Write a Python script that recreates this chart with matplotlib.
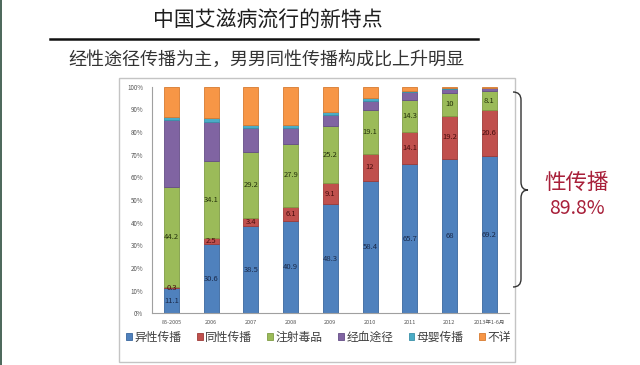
import matplotlib
matplotlib.use("Agg")
import matplotlib.pyplot as plt
from matplotlib.patches import Rectangle, PathPatch
from matplotlib.path import Path
from matplotlib.lines import Line2D
import numpy as np

plt.rcParams['font.family'] = ['Noto Sans CJK SC', 'DejaVu Sans']

categories = ['85-2005', '2006', '2007', '2008', '2009', '2010', '2011', '2012', '2013年1-6月']
hetero = [11.1, 30.6, 38.5, 40.9, 48.3, 58.4, 65.7, 68, 69.2]
homo = [0.3, 2.5, 3.4, 6.1, 9.1, 12, 14.1, 19.2, 20.6]
idu = [44.2, 34.1, 29.2, 27.9, 25.2, 19.1, 14.3, 10, 8.1]
blood = [29.7, 17.4, 10.7, 7.0, 5.0, 4.4, 3.6, 1.9, 1.4]
mtc = [1.2, 1.4, 1.3, 1.1, 1.1, 1.1, 0.6, 0.4, 0.3]
unknown = [13.5, 14.0, 16.9, 17.0, 11.3, 5.0, 1.7, 0.5, 0.4]
series_names = ['异性传播', '同性传播', '注射毒品', '经血途径', '母婴传播', '不详']
yticks = [0, 10, 20, 30, 40, 50, 60, 70, 80, 90, 100]

series = [hetero, homo, idu, blood, mtc, unknown]
colors = ['#4F81BD', '#C0504D', '#9BBB59', '#8064A2', '#4BACC6', '#F79646']
edges = ['#3A679E', '#9E3B38', '#7F9C45', '#654E86', '#3A90A8', '#D77B30']
label_colors = ['#1B2A4A', '#4A0E0E', '#26330C']

W, H = 640, 365
fig = plt.figure(figsize=(W / 100, H / 100), dpi=100)

def fx(x):
    return x / W

def fy(y):
    return 1 - y / H

# left edge strip
fig.add_artist(Line2D([fx(0.8), fx(0.8)], [0, 1], color='#3d5a4c', lw=1.3, transform=fig.transFigure))

# chart box
fig.add_artist(Rectangle((fx(119), fy(362)), fx(515) - fx(119), fy(78) - fy(362),
                         transform=fig.transFigure, facecolor='white',
                         edgecolor='#c4c4c4', lw=1.0, zorder=0))

# title and subtitle
fig.text(fx(268), fy(21), '中国艾滋病流行的新特点', ha='center', va='center',
         fontsize=15, color='#1e1e1e', fontweight='medium')
fig.add_artist(Line2D([fx(50), fx(478)], [fy(39), fy(39)], color='#111111', lw=1.8,
                      transform=fig.transFigure))
fig.text(fx(266), fy(60), '经性途径传播为主，男男同性传播构成比上升明显', ha='center', va='center',
         fontsize=13, color='#333333')

# axes
left, right = 151.7, 509
top, bottom = 86.7, 313.3
ax = fig.add_axes([fx(left), fy(bottom), fx(right) - fx(left), fy(top) - fy(bottom)])
ax.patch.set_alpha(0)

x = np.arange(len(categories))
base = np.zeros(len(categories))
handles = []
for i, (vals, c, ec) in enumerate(zip(series, colors, edges)):
    vals = np.array(vals, dtype=float)
    b = ax.bar(x, vals, width=0.38, bottom=base, color=c, edgecolor=ec, linewidth=0.6)
    handles.append(b)
    if i < 3:
        for xi, v, b0 in zip(x, vals, base):
            ax.text(xi, b0 + v / 2, f'{v:g}', ha='center', va='center',
                    fontsize=5.5, color=label_colors[i], fontweight='medium')
    base = base + vals

ax.set_xlim(-0.5, len(categories) - 0.5)
ax.set_ylim(0, 100)
ax.set_yticks(yticks)
ax.set_yticklabels([f'{t}%' for t in yticks])
ax.set_xticks(x)
ax.set_xticklabels(categories)
ax.tick_params(axis='y', labelsize=4.5, labelcolor='#555555', length=0, pad=6)
ax.tick_params(axis='x', labelsize=4, labelcolor='#555555', length=0, pad=5)
for s in ['top', 'right']:
    ax.spines[s].set_visible(False)
ax.spines['left'].set_color('#a0a0a0')
ax.spines['bottom'].set_color('#a0a0a0')
ax.spines['left'].set_linewidth(0.8)
ax.spines['bottom'].set_linewidth(0.8)

leg = fig.legend([h[0] for h in handles], series_names, ncol=6, loc='center',
                 bbox_to_anchor=(fx(318.5), fy(337)), frameon=False, fontsize=8.5,
                 handlelength=0.5, handleheight=0.5, handletextpad=0.2,
                 columnspacing=1.3)
for t in leg.get_texts():
    t.set_color('#404040')

# brace
verts = [(513, 92), (521, 92), (521, 100), (521, 182), (521, 190), (528, 190),
         (521, 190), (521, 198), (521, 279), (521, 287), (513, 287)]
codes = [Path.MOVETO, Path.CURVE3, Path.CURVE3, Path.LINETO, Path.CURVE3, Path.CURVE3,
         Path.CURVE3, Path.CURVE3, Path.LINETO, Path.CURVE3, Path.CURVE3]
path = Path([(fx(a), fy(b)) for a, b in verts], codes)
fig.add_artist(PathPatch(path, transform=fig.transFigure, facecolor='none',
                         edgecolor='#333333', lw=1.0))

fig.text(fx(577), fy(183), '性传播', ha='center', va='center', fontsize=15.5, color='#A8203A')
fig.text(fx(577), fy(209), '89.8%', ha='center', va='center', fontsize=14, color='#A8203A')

fig.savefig('out.png', dpi=100)
